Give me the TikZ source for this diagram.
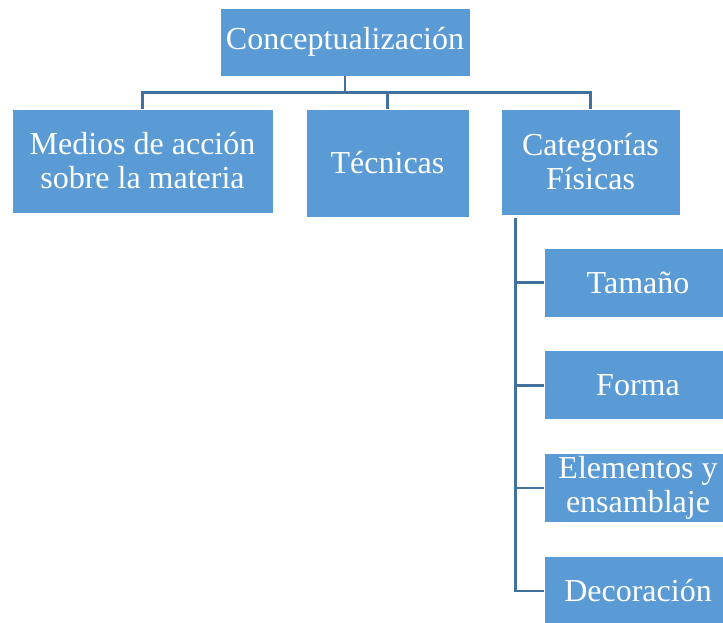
\documentclass[tikz,border=0pt]{standalone}
\usepackage{fontspec}
\setmainfont{Liberation Serif}
\usepackage{xcolor}
\usepackage{tikz}
\definecolor{boxblue}{RGB}{91, 155, 213}
\definecolor{lineblue}{RGB}{65, 113, 156}
\usetikzlibrary{positioning, calc}

\begin{document}
\begin{tikzpicture}[
    x=1pt, y=-1pt,
    box/.style={rectangle, draw=white, line width=0.8pt, fill=boxblue,
                text=white, align=center, inner sep=0pt,
                font=\fontsize{32}{34}\selectfont},
    leaf/.style={box, minimum width=188, minimum height=69},
    link/.style={line width=2.6pt, lineblue}
]
    \clip (0,0) rectangle (723,622);
    \node[box, minimum width=250, minimum height=68] (concepto) at (345,42) {Conceptualización};
    \node[box, minimum width=261, minimum height=104] (medios) at (142.5,161) {Medios de acción\\sobre la materia};
    \node[box, minimum width=163, minimum height=108] (tecnicas) at (387.5,163) {Técnicas};
    \node[box, minimum width=179, minimum height=106] (categorias) at (590.5,162) {Categorías\\Físicas};

    \node[leaf] (tamano) at (638,282.5) {Tamaño};
    \node[leaf, below=33pt of tamano] (forma) {Forma};
    \node[leaf, below=33pt of forma] (elementos) {Elementos y\\ensamblaje};
    \node[leaf, below=33pt of elementos] (decoracion) {Decoración};

    \draw[link] (concepto.south) -- ++(0,16) coordinate (hub) -| (medios.north);
    \draw[link] (hub) -| (tecnicas.north);
    \draw[link] (hub) -| (categorias.north);

    \coordinate (trunk) at ($(categorias.south west)+(15,3)$);
    \draw[link] (trunk) |- (tamano.west);
    \draw[link] (trunk) |- (forma.west);
    \draw[link] (trunk) |- (elementos.west);
    \draw[link] (trunk) |- (decoracion.west);
\end{tikzpicture}
\end{document}
